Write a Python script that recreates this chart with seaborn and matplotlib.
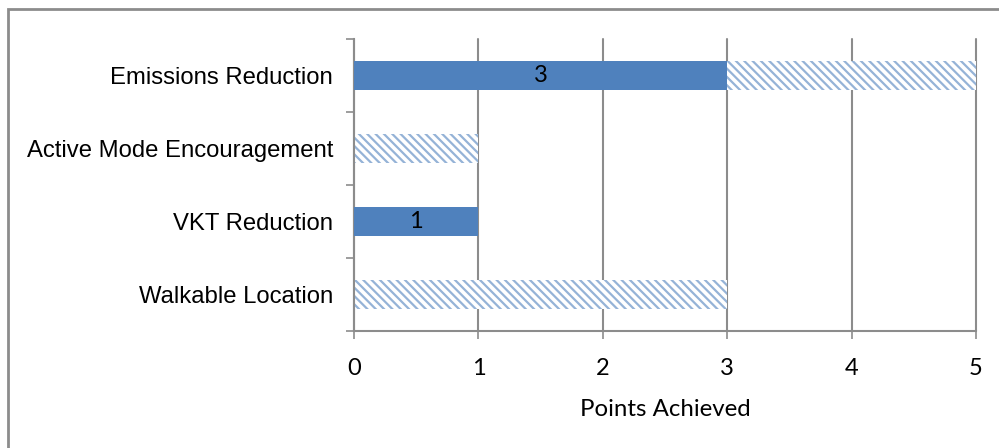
import matplotlib
matplotlib.use("Agg")
import matplotlib.pyplot as plt
import seaborn as sns
import pandas as pd
from matplotlib.patches import Rectangle

# Credit categories and scores
categories = ["Emissions Reduction", "Active Mode Encouragement", "VKT Reduction", "Walkable Location"]
achieved = [3, 0, 1, 0]
available = [5, 1, 1, 3]
x_ticks = [0, 1, 2, 3, 4, 5]

solid_blue = "#4F81BD"
hatch_blue = "#95B3D7"
axis_gray = "#8C8C8C"

sns.set_theme(style="white")
plt.rcParams["hatch.linewidth"] = 1.6
plt.rcParams["text.color"] = "black"
plt.rcParams["xtick.labelcolor"] = "black"
plt.rcParams["ytick.labelcolor"] = "black"
plt.rcParams["axes.labelcolor"] = "black"

df = pd.DataFrame({"category": categories, "achieved": achieved, "available": available})

fig = plt.figure(figsize=(9.99, 4.48), dpi=100)
ax = fig.add_axes([0.3544, 0.2612, 0.6226, 0.6517])

# Hatched bars show the points on offer, solid bars the points achieved
sns.barplot(data=df, y="category", x="available", orient="h", ax=ax,
            color="white", width=0.4, saturation=1, edgecolor=hatch_blue,
            linewidth=0, hatch="\\\\\\\\", zorder=2)
sns.barplot(data=df, y="category", x="achieved", orient="h", ax=ax,
            color=solid_blue, width=0.4, saturation=1, linewidth=0, zorder=3)

# Value labels on the achieved bars
solid = ax.containers[1]
labels = [str(v) if v > 0 else "" for v in achieved]
ax.bar_label(solid, labels=labels, label_type="center", fontsize=17,
             family="Lato", color="black")

ax.set_xlim(0, 5)
ax.set_ylim(len(categories) - 0.5, -0.5)
ax.set_xticks(x_ticks)
ax.set_xticklabels([str(t) for t in x_ticks], family="Lato", fontsize=17)
ax.set_xlabel("Points Achieved", family="Lato", fontsize=17.3, labelpad=14)
ax.set_ylabel("")
ax.tick_params(axis="y", length=0, labelsize=17.2, pad=15)
for lbl in ax.get_yticklabels():
    lbl.set_family("Liberation Sans")
ax.set_yticks([i - 0.5 for i in range(len(categories) + 1)], minor=True)
ax.tick_params(axis="y", which="minor", length=6, width=1.2, color=axis_gray, direction="out", left=True)
ax.tick_params(axis="x", length=6, width=1.2, color=axis_gray, direction="out", bottom=True, pad=13.5)

ax.xaxis.grid(True, color=axis_gray, linewidth=1.5, zorder=1)
for gl in ax.get_xgridlines():
    gl.set_clip_on(False)
ax.set_axisbelow(True)
for side in ["top", "right"]:
    ax.spines[side].set_visible(False)
for side in ["left", "bottom"]:
    ax.spines[side].set_color(axis_gray)
    ax.spines[side].set_linewidth(1.5)

# Outer chart frame
fig.patches.append(Rectangle((7.5 / 999, -0.1), 1.2, 1 - 9.5 / 448 + 0.1,
                             transform=fig.transFigure, fill=False,
                             edgecolor=axis_gray, linewidth=2))

fig.savefig("out.png", dpi=100)
